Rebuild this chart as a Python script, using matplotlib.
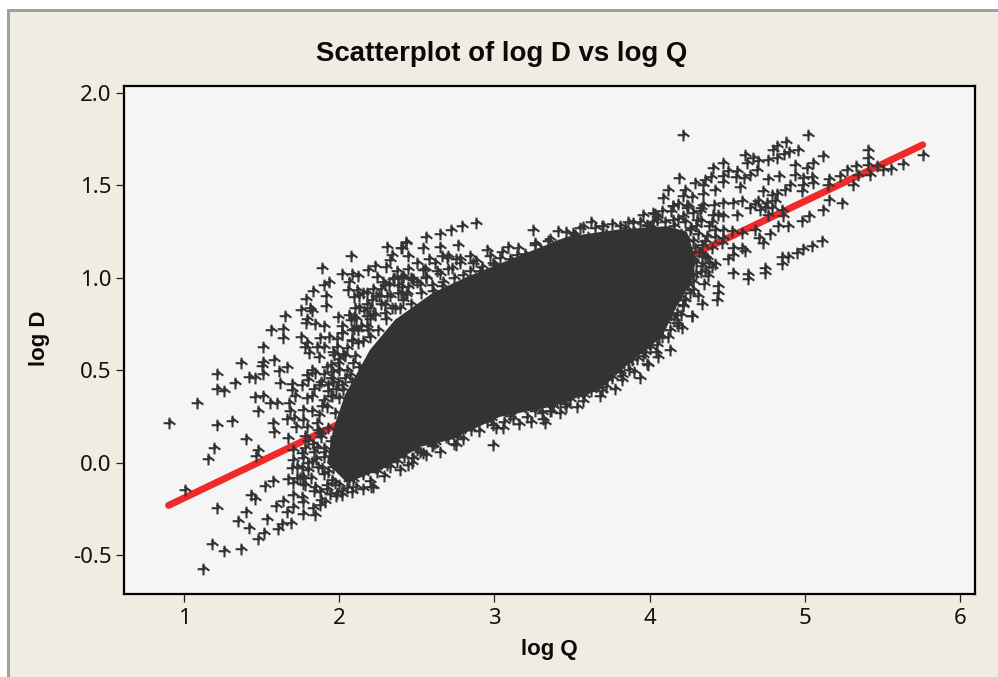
import matplotlib
matplotlib.use("Agg")
import matplotlib.pyplot as plt
from matplotlib.patches import Rectangle
from matplotlib.path import Path

# values, one pair of lists per part of the cloud
low_q = [0.903, 1.006, 1.086, 1.215, 1.307, 1.399, 1.191, 1.157, 1.210, 1.399, 1.350, 1.421, 1.537, 1.429, 1.457,
         1.522, 1.571, 1.178, 1.260, 1.365, 1.120, 1.479, 1.515, 1.608, 1.634, 1.687, 1.661, 1.591, 1.640, 1.765,
         1.844, 1.829, 1.704, 1.554, 1.601, 1.676, 1.790, 1.479, 1.683, 1.765, 1.823, 1.887, 1.661, 1.709, 1.765,
         1.571, 1.580, 1.722, 1.790, 1.855, 1.672, 1.780, 1.876, 1.479, 1.464, 1.700, 1.758, 1.855, 1.908, 1.704,
         1.769, 1.823, 1.694, 1.758, 1.887, 1.672, 1.726, 1.769, 1.704, 1.769, 1.844, 1.919, 1.984, 2.048, 2.203,
         2.016, 1.876, 1.758, 1.704, 1.769, 1.908, 1.876, 1.952, 2.091, 2.155, 2.241, 2.306, 2.445, 2.478, 2.370]
low_d = [0.215, -0.146, 0.323, 0.205, 0.224, 0.128, 0.079, 0.020, -0.245, -0.263, -0.312, -0.350, -0.303, -0.173, -0.197,
         -0.125, -0.098, -0.438, -0.478, -0.467, -0.576, -0.411, -0.381, -0.359, -0.330, -0.323, -0.263, -0.233, -0.204, -0.276,
         -0.282, -0.245, -0.173, 0.323, 0.323, 0.323, 0.350, 0.278, 0.278, 0.287, 0.278, 0.305, 0.236, 0.242, 0.233,
         0.214, 0.169, 0.196, 0.196, 0.214, 0.133, 0.146, 0.160, 0.070, 0.038, 0.070, 0.056, 0.088, 0.061, 0.016,
         0.025, 0.007, -0.029, -0.029, -0.029, -0.087, -0.083, -0.074, -0.110, -0.114, -0.128, -0.119, -0.164, -0.137, -0.128,
         -0.173, -0.155, -0.182, -0.236, -0.209, -0.209, -0.227, -0.092, -0.092, -0.047, -0.047, -0.011, -0.011, 0.025, 0.007]

upleft_q = [2.430, 2.398, 2.306, 2.338, 2.327, 2.076, 1.891, 2.231, 2.188, 2.016, 2.084, 2.123, 2.246, 2.349, 2.409,
            2.478, 2.063, 1.936, 1.902, 2.295, 2.402, 2.054, 2.117, 1.833, 2.177, 2.258, 2.306, 2.381, 2.430, 2.097,
            1.913, 1.786, 1.913, 1.752, 1.812, 1.822, 2.295, 2.127, 2.198, 2.295, 2.392, 1.651, 1.994, 1.790, 1.786,
            1.844, 1.904, 2.097, 2.074, 2.177, 2.220, 2.016, 2.016, 2.097, 2.188, 1.558, 1.640, 1.636, 1.754, 1.876,
            1.936, 1.984, 2.080, 2.123, 1.511, 1.795, 1.780, 1.855, 1.902, 1.984, 1.807, 1.870, 1.969, 2.026, 2.091,
            1.994, 1.580, 1.511, 1.500, 1.365, 1.661, 1.614, 1.210, 1.511, 1.421, 1.457, 1.823, 1.790, 1.844, 1.902,
            1.962, 2.069, 2.037, 1.797, 1.329, 1.618, 1.694, 1.758, 1.872, 1.962, 1.210, 1.260, 1.694, 1.930, 2.026,
            1.457, 1.511, 1.715, 1.823, 1.952, 2.069]
upleft_d = [1.192, 1.160, 1.170, 1.125, 1.098, 1.120, 1.053, 1.062, 1.044, 1.023, 1.023, 1.012, 1.003, 0.994, 1.003,
            0.994, 0.976, 0.976, 0.963, 0.963, 0.950, 0.936, 0.936, 0.927, 0.918, 0.904, 0.900, 0.918, 0.909, 0.896,
            0.900, 0.885, 0.846, 0.828, 0.837, 0.819, 0.855, 0.837, 0.837, 0.810, 0.837, 0.792, 0.788, 0.777, 0.756,
            0.750, 0.741, 0.788, 0.770, 0.792, 0.806, 0.738, 0.702, 0.723, 0.720, 0.720, 0.723, 0.678, 0.683, 0.674,
            0.683, 0.669, 0.665, 0.647, 0.624, 0.647, 0.624, 0.624, 0.624, 0.629, 0.593, 0.575, 0.584, 0.590, 0.539,
            0.539, 0.557, 0.545, 0.525, 0.539, 0.516, 0.499, 0.480, 0.480, 0.467, 0.458, 0.503, 0.476, 0.485, 0.480,
            0.494, 0.476, 0.458, 0.449, 0.431, 0.431, 0.427, 0.422, 0.422, 0.431, 0.398, 0.391, 0.395, 0.391, 0.395,
            0.355, 0.359, 0.359, 0.359, 0.359, 0.350]

mid_q = [2.882, 2.789, 2.721, 2.650, 2.560, 2.431, 2.403, 2.538, 2.650, 2.768, 2.950, 3.086, 3.247, 3.412, 3.348,
         3.262, 3.505, 3.573, 3.691, 3.810, 3.891, 3.981, 4.035, 4.153, 4.239, 3.144, 3.036, 2.693, 2.779, 2.860,
         2.989, 2.538, 2.650, 2.725, 2.800, 2.413, 2.478, 2.560, 2.521, 2.660, 2.607, 2.435, 2.907,
         4.271, 4.207, 4.132, 4.056, 3.981, 3.902, 3.820, 4.121, 4.046, 3.971, 3.885, 3.810, 3.724, 3.648, 3.691,
         3.573, 3.487, 3.401, 3.455, 3.573, 3.365, 3.305, 3.294, 3.326, 3.236, 3.053, 2.993, 2.993, 3.101, 3.133,
         2.983, 2.897, 2.843, 2.779, 2.703, 2.753, 2.607, 2.542, 2.467, 4.217, 4.282, 4.228, 4.089, 4.175, 3.981,
         3.874, 3.745, 3.638]
mid_d = [1.297, 1.279, 1.257, 1.239, 1.219, 1.188, 1.161, 1.161, 1.170, 1.180, 1.152, 1.170, 1.257, 1.252, 1.198,
         1.180, 1.243, 1.275, 1.282, 1.282, 1.297, 1.288, 1.347, 1.387, 1.396, 1.125, 1.107, 1.107, 1.102, 1.080,
         1.080, 1.041, 1.023, 1.053, 1.017, 1.009, 0.990, 1.005, 0.963, 0.954, 0.927, 0.918, 1.035,
         0.792, 0.729, 0.611, 0.575, 0.536, 0.494, 0.449, 0.683, 0.638, 0.593, 0.557, 0.494, 0.449, 0.422, 0.391,
         0.332, 0.341, 0.332, 0.319, 0.386, 0.283, 0.269, 0.305, 0.215, 0.223, 0.187, 0.205, 0.097, 0.251, 0.305,
         0.269, 0.233, 0.205, 0.169, 0.133, 0.097, 0.097, 0.052, 0.025, 0.846, 0.936, 0.882, 0.792, 0.756, 0.665,
         0.629, 0.557, 0.503]

high_q = [4.213, 5.018, 5.764, 5.409, 5.409, 5.405, 5.119, 4.879, 4.819, 4.797, 4.958, 4.900, 4.866, 4.823, 4.765,
          4.615, 4.668, 4.625, 4.700, 4.475, 4.406, 4.507, 4.561, 4.694, 4.647, 4.608, 4.557, 4.475, 4.395, 4.191,
          4.292, 4.357, 4.346, 4.475, 4.765, 4.836, 4.937, 4.937, 5.012, 5.051, 5.044, 4.990, 5.055, 4.986, 4.980,
          4.904, 4.872, 4.823, 4.582, 4.421, 4.121, 4.088, 4.228, 4.213, 4.271, 4.346, 4.733, 4.786, 4.700, 4.754,
          4.808, 4.593, 4.475, 4.535, 4.415, 4.346, 4.249, 4.148, 4.024, 4.647, 4.711, 4.765, 4.851, 4.862, 4.561,
          4.475, 4.410, 4.325, 4.217, 4.303, 4.153, 4.045, 5.158, 5.151, 5.227, 5.274, 5.330, 5.345, 5.313, 5.463,
          5.506, 5.553, 5.630, 5.420, 5.158, 5.237, 5.115, 5.027, 4.980, 4.829, 4.894, 4.776, 4.679, 4.593, 4.529,
          4.475, 4.707, 4.733, 5.109, 5.044, 4.990, 4.947, 4.894, 4.851, 4.851, 4.743, 4.743, 4.636, 4.636, 4.535,
          4.615, 4.539, 4.535, 4.593, 4.507, 4.421, 4.368, 4.335, 4.378, 4.438, 4.438, 4.432, 4.340, 4.271, 4.217,
          4.249, 4.282, 4.464, 4.368, 4.260, 4.421, 4.131, 4.174, 4.067, 3.981, 4.743, 4.680, 4.786]
high_d = [1.775, 1.775, 1.667, 1.690, 1.649, 1.612, 1.658, 1.733, 1.715, 1.690, 1.694, 1.679, 1.670, 1.649, 1.636,
          1.667, 1.649, 1.622, 1.630, 1.622, 1.594, 1.580, 1.576, 1.582, 1.558, 1.540, 1.546, 1.549, 1.546, 1.540,
          1.513, 1.531, 1.504, 1.519, 1.537, 1.549, 1.612, 1.558, 1.594, 1.621, 1.546, 1.540, 1.513, 1.504, 1.468,
          1.504, 1.477, 1.456, 1.490, 1.477, 1.474, 1.432, 1.474, 1.445, 1.438, 1.456, 1.468, 1.450, 1.414, 1.405,
          1.414, 1.414, 1.405, 1.405, 1.396, 1.396, 1.391, 1.387, 1.351, 1.378, 1.369, 1.342, 1.369, 1.333, 1.342,
          1.333, 1.342, 1.360, 1.333, 1.315, 1.315, 1.315, 1.535, 1.504, 1.549, 1.585, 1.603, 1.558, 1.504, 1.603,
          1.585, 1.589, 1.616, 1.558, 1.423, 1.405, 1.369, 1.337, 1.306, 1.279, 1.279, 1.237, 1.257, 1.243, 1.252,
          1.216, 1.216, 1.189, 1.198, 1.171, 1.158, 1.134, 1.113, 1.113, 1.077, 1.053, 1.026, 1.023, 0.994, 1.026,
          1.144, 1.162, 1.125, 1.162, 1.102, 1.077, 1.107, 1.062, 1.008, 0.954, 0.918, 0.882, 0.860, 0.792, 0.855,
          0.963, 1.008, 1.189, 1.225, 1.261, 1.261, 0.882, 0.810, 0.846, 1.279, 1.385, 1.400, 1.380]

# points on the rim of the dark mass, walked from the upper left round to the lower left
rim_q = [2.02, 2.05, 2.08, 2.10, 2.13, 2.15, 2.12, 2.18, 2.20, 2.23, 2.25, 2.27, 2.30, 2.33, 2.36, 2.38, 2.41, 2.44, 2.46,
         2.50, 2.53, 2.56, 2.60, 2.63, 2.67, 2.70, 2.74, 2.78, 2.84, 2.88, 2.92, 2.97, 3.00, 3.05, 3.10, 3.15, 3.20, 3.26,
         3.30, 3.36, 3.41, 3.46, 3.52, 3.55, 3.60, 3.65, 3.72, 3.76, 3.84, 3.90, 3.94, 4.00, 4.05, 4.10, 4.14,
         4.12, 4.16, 4.18, 4.20, 4.23, 4.25, 4.27, 4.29, 4.31, 4.33, 4.34, 4.36, 4.38, 4.40, 4.42, 4.30, 4.33, 4.28, 4.35,
         4.26, 4.31, 4.22, 4.18, 4.25, 4.20, 4.15, 4.22, 4.12, 4.16, 4.10, 4.06, 4.13, 4.20, 4.08, 4.02, 3.97, 4.04, 3.92,
         3.99, 3.87, 3.94, 3.82, 3.78, 3.72, 3.68, 3.62, 3.58, 3.53, 3.46, 3.42, 3.38, 3.31, 3.26, 3.21, 3.16, 3.10, 3.06,
         3.01, 2.95, 2.90, 2.85, 2.80, 2.74, 2.69, 2.65, 2.60, 2.56, 2.50, 2.47, 2.42, 2.39, 2.33, 2.29, 2.24, 2.20, 2.15,
         2.11, 2.06, 2.02, 1.97, 1.94, 1.90, 1.86, 1.82, 1.90, 1.84, 1.80, 1.88, 1.93, 1.97, 1.92, 1.87, 1.95, 1.90, 1.99,
         1.95, 2.00, 2.05, 2.00, 2.08, 2.02, 1.95, 2.11, 2.16, 2.21, 2.13, 2.27, 2.35, 2.30, 2.22, 2.44, 2.50, 2.58, 2.70, 2.44]
rim_d = [0.42, 0.50, 0.44, 0.58, 0.52, 0.66, 0.72, 0.74, 0.68, 0.80, 0.72, 0.86, 0.78, 0.90, 0.84, 0.96, 0.88, 0.95, 0.86,
         0.98, 0.92, 1.00, 0.96, 1.04, 0.98, 1.05, 1.00, 1.08, 1.04, 1.09, 1.06, 1.12, 1.07, 1.14, 1.10, 1.16, 1.13, 1.19,
         1.15, 1.21, 1.18, 1.25, 1.23, 1.27, 1.22, 1.27, 1.24, 1.29, 1.27, 1.25, 1.30, 1.28, 1.33, 1.30, 1.36,
         1.20, 1.28, 1.32, 1.24, 1.30, 1.20, 1.27, 1.16, 1.24, 1.31, 1.12, 1.20, 1.28, 1.16, 1.22, 1.08, 1.03, 0.98, 0.97,
         0.92, 0.90, 0.88, 0.90, 1.05, 1.12, 1.05, 1.00, 0.95, 0.78, 0.84, 0.76, 0.72, 0.80, 0.68, 0.70, 0.62, 0.60, 0.56,
         0.53, 0.50, 0.46, 0.47, 0.40, 0.41, 0.36, 0.39, 0.36, 0.30, 0.30, 0.27, 0.30, 0.24, 0.28, 0.25, 0.21, 0.27, 0.22,
         0.19, 0.22, 0.17, 0.18, 0.13, 0.10, 0.14, 0.06, 0.09, 0.04, 0.07, 0.00, 0.03, -0.04, -0.02, -0.07, -0.03, -0.10, -0.06,
         -0.13, -0.10, -0.15, -0.11, -0.17, -0.06, -0.02, -0.08, 0.03, 0.06, 0.12, 0.14, 0.19, 0.27, 0.30, 0.26, 0.36, 0.34, 0.44,
         0.46, 0.35, 0.62, 0.56, 0.66, 0.70, 0.53, 0.78, 0.82, 0.88, 0.90, 0.94, 1.00, 1.06, 0.94, 1.05, 1.08, 1.10, 1.12, 1.12]

# thicker patches of the cloud: upper left, lower left, right end, lower right
thick_q = [2.10, 2.15, 2.18, 2.24, 2.28, 2.32, 2.37, 2.40, 2.46, 2.34, 2.40, 2.20, 2.14, 2.08, 2.04, 2.00, 1.96, 1.92,
           1.88, 1.84, 1.98, 1.93, 2.06, 2.55, 2.62, 2.66, 2.75, 2.84,
           1.78, 1.84, 1.88, 1.92, 1.98, 1.80, 1.85, 1.78, 1.83, 1.90, 1.95, 1.86, 1.80, 1.75, 1.73, 1.93, 1.96, 2.00, 2.08,
           2.15, 2.22,
           4.28, 4.33, 4.18, 4.24, 4.40, 4.44, 4.47, 4.30, 4.36, 4.40, 4.32, 4.28, 4.34, 4.38, 4.30, 4.24, 4.28, 4.36,
           4.20, 4.16, 4.14, 4.18, 4.10, 4.06, 4.00, 3.96, 3.90, 3.86, 3.80, 3.76, 3.70, 3.66, 3.60, 3.54, 3.48, 3.42, 3.36,
           3.20, 3.12, 2.98, 2.86, 2.76, 2.62, 2.52, 3.96, 4.02, 4.08, 3.86, 3.70, 3.62]
thick_d = [0.84, 0.92, 0.86, 0.90, 0.98, 0.96, 1.04, 1.00, 1.00, 0.84, 0.92, 0.78, 0.74, 0.72, 0.58, 0.50, 0.60, 0.52,
           0.44, 0.40, 0.40, 0.42, 0.80, 1.05, 1.08, 1.12, 1.10, 1.12,
           -0.12, -0.15, -0.20, -0.14, -0.18, 0.00, 0.02, 0.08, 0.10, 0.08, 0.12, 0.18, -0.04, -0.08, -0.02, -0.05, -0.02, -0.12, -0.16,
           -0.14, -0.13,
           1.35, 1.38, 1.40, 1.38, 1.30, 1.34, 1.26, 1.28, 1.12, 1.06, 1.14, 1.20, 1.18, 1.08, 1.02, 0.96, 1.10, 1.04,
           0.92, 0.86, 0.80, 0.74, 0.76, 0.68, 0.62, 0.58, 0.60, 0.54, 0.52, 0.46, 0.46, 0.44, 0.42, 0.38, 0.36, 0.33, 0.28,
           0.30, 0.24, 0.24, 0.21, 0.14, 0.11, 0.06, 1.34, 1.30, 1.36, 1.30, 1.28, 1.30]

# outline of the part of the cloud where the markers merge into solid dark
core_q = [1.960, 2.037, 2.198, 2.360, 2.604, 2.823, 3.146, 3.468, 3.790, 4.112, 4.240, 4.300, 4.270, 4.170, 4.080,
          3.893, 3.680, 3.358, 3.036, 2.714, 2.521, 2.308, 2.050, 1.921]
core_d = [0.179, 0.368, 0.611, 0.774, 0.920, 1.006, 1.115, 1.223, 1.261, 1.280, 1.250, 1.100, 0.980, 0.840, 0.680,
          0.557, 0.395, 0.303, 0.249, 0.124, 0.087, -0.022, -0.108, 0.000]

fit_q = [0.90, 5.76]
fit_d = [-0.23, 1.72]

x_ticks = [1, 2, 3, 4, 5, 6]
y_ticks = [-0.5, 0.0, 0.5, 1.0, 1.5, 2.0]

W, H = 998, 677
PANEL = "#f0ece1"
INK = "#333333"

plt.rcParams["font.family"] = ["Noto Sans", "DejaVu Sans"]

# stem, crossbar and a slanted stroke, like the plot symbol of the original
simbolo = Path([(-1, 0.05), (0.3, 0.05), (0, 1), (0, -1), (-0.1, 0.62), (1, -0.2)],
               [Path.MOVETO, Path.LINETO, Path.MOVETO, Path.LINETO, Path.MOVETO, Path.LINETO])

fig = plt.figure(figsize=(W / 100, H / 100), dpi=100, facecolor="white")
fig.patches.append(Rectangle((7 / W, 0), 1 - 7 / W, 1 - 9 / H, transform=fig.transFigure,
                             facecolor=PANEL, edgecolor="none", zorder=-3))
fig.patches.append(Rectangle((7 / W, 0), 3 / W, 1 - 9 / H, transform=fig.transFigure,
                             facecolor="#a0a0a0", edgecolor="none", zorder=-2))
fig.patches.append(Rectangle((7 / W, 1 - 12 / H), 1 - 7 / W, 3 / H, transform=fig.transFigure,
                             facecolor="#a0a0a0", edgecolor="none", zorder=-2))

ax = fig.add_axes([124 / W, 1 - 594 / H, (975 - 124) / W, (594 - 86) / H], facecolor="#f5f5f5")
ax.plot(fit_q, fit_d, color="#ee2a2a", linewidth=5.0, solid_capstyle="round", zorder=2)
ax.fill(core_q, core_d, color=INK, linewidth=0, zorder=3)

for q, d in [(low_q, low_d), (upleft_q, upleft_d), (mid_q, mid_d), (high_q, high_d), (rim_q, rim_d), (thick_q, thick_d)]:
    ax.plot(q, d, linestyle="none", marker=simbolo, markersize=8.4, markerfacecolor="none",
            markeredgecolor=INK, markeredgewidth=1.5, zorder=4)

ax.set_xlim(0.613, 6.097)
ax.set_ylim(-0.709, 2.038)
ax.set_xticks(x_ticks)
ax.set_yticks(y_ticks)
ax.set_yticklabels([f"{v:.1f}" for v in y_ticks])
ax.tick_params(axis="both", direction="out", length=6, width=0.9, labelsize=16, color="#222222", labelcolor="#111111")
ax.tick_params(axis="x", pad=4)
ax.tick_params(axis="y", pad=3)
for s in ax.spines.values():
    s.set_linewidth(1.6)
    s.set_color("black")

bold = ["Liberation Sans", "DejaVu Sans"]
fig.text(502 / W, 1 - 54 / H, "Scatterplot of log D vs log Q", ha="center", va="center",
         fontsize=19.9, fontweight="bold", color="#0a0a0a", family=bold)
fig.text(549 / W, 1 - 650 / H, "log Q", ha="center", va="center",
         fontsize=16, fontweight="bold", color="#0a0a0a", family=bold)
fig.text(40 / W, 1 - 338 / H, "log D", ha="center", va="center", rotation=90,
         fontsize=16, fontweight="bold", color="#0a0a0a", family=bold)

fig.savefig("out.png", dpi=100, facecolor=fig.get_facecolor())
